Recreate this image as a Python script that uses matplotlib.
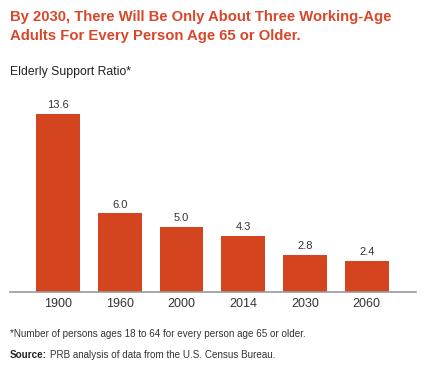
import matplotlib.pyplot as plt

years = ["1900", "1960", "2000", "2014", "2030", "2060"]
ratios = [13.6, 6.0, 5.0, 4.3, 2.8, 2.4]

bar_color = "#d4441f"
title_color = "#d9472a"
plt.rcParams['font.family'] = ['Liberation Sans', 'DejaVu Sans']

fig = plt.figure(figsize=(4.33, 3.73), dpi=100)
ax = fig.add_axes([10/433, 81/373, 405.6/433, 192/373])

x = range(len(years))
ax.bar(x, ratios, width=0.71, color=bar_color)
for i, v in zip(x, ratios):
    ax.text(i, v + 0.3, f"{v:.1f}", ha='center', va='bottom', fontsize=8, color='#333333')

ax.set_xlim(-0.777, 5.79)
ax.set_ylim(0, 14.67)
ax.set_xticks(list(x))
ax.set_xticklabels(years, fontsize=9, color='#333333')
ax.tick_params(axis='x', length=0, pad=4)
ax.set_yticks([])
for s in ['top', 'right', 'left']:
    ax.spines[s].set_visible(False)
ax.spines['bottom'].set_color('#999999')
ax.spines['bottom'].set_linewidth(1.2)

fig.text(10/433, 1 - 17/373, "By 2030, There Will Be Only About Three Working-Age",
         fontsize=10.7, fontweight='bold', color=title_color, va='center')
fig.text(10/433, 1 - 36/373, "Adults For Every Person Age 65 or Older.",
         fontsize=10.7, fontweight='bold', color=title_color, va='center')
fig.text(10/433, 1 - 72/373, "Elderly Support Ratio*", fontsize=8.8, color='#222222', va='center')
fig.text(10/433, 1 - 334/373, "*Number of persons ages 18 to 64 for every person age 65 or older.",
         fontsize=7.1, color='#333333', va='center')

# source line: bold label followed by normal text
src = fig.text(10/433, 1 - 355/373, "Source:", fontsize=7.1, fontweight='bold',
               color='#222222', va='center')
fig.canvas.draw()
bb = src.get_window_extent()
fig.text((bb.x1 + 3) / 433, 1 - 355/373, "PRB analysis of data from the U.S. Census Bureau.",
         fontsize=7.1, color='#333333', va='center')

fig.savefig("out.png", dpi=100)
